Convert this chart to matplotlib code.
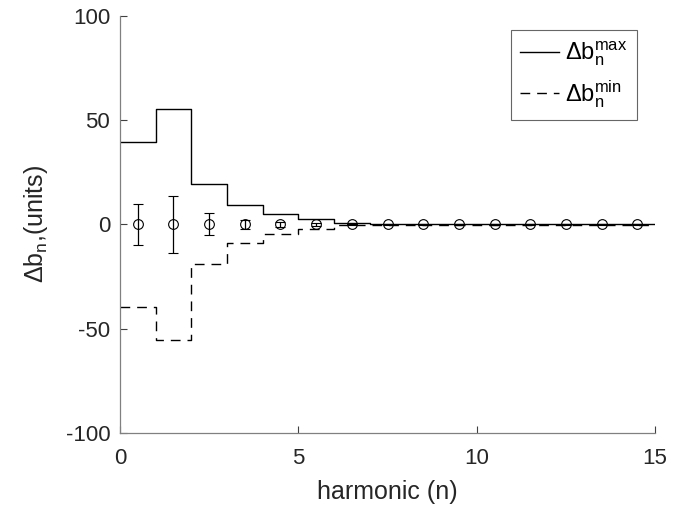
import numpy as np
import matplotlib
matplotlib.use("Agg")
import matplotlib.pyplot as plt

plt.rcParams['font.family'] = ['Liberation Sans', 'DejaVu Sans']
plt.rcParams['mathtext.fontset'] = 'custom'
plt.rcParams['mathtext.rm'] = 'Liberation Sans'
plt.rcParams['mathtext.it'] = 'Liberation Sans'
plt.rcParams['mathtext.default'] = 'regular'
plt.rcParams['axes.unicode_minus'] = False

# harmonic bins (edges) and per-harmonic bounds / spread
edges = np.arange(0, 16)
db_max = [39.5, 55.3, 19.2, 9.1, 5.1, 2.4, 0.5, 0.3, 0.2, 0.15, 0.1, 0.1, 0.1, 0.1, 0.1]
db_min = [-39.5, -55.3, -18.8, -9.1, -4.8, -2.4, -0.5, -0.3, -0.2, -0.15, -0.1, -0.1, -0.1, -0.1, -0.1]
centers = [0.5, 1.5, 2.5, 3.5, 4.5, 5.5, 6.5, 7.5, 8.5, 9.5, 10.5, 11.5, 12.5, 13.5, 14.5]
mean_vals = [0, 0, 0, 0, 0, 0, 0, 0, 0, 0, 0, 0, 0, 0, 0]
sigma = [9.7, 13.8, 5.3, 2.2, 1.3, 0.6, 0.2, 0.1, 0.1, 0.1, 0.1, 0.1, 0.1, 0.1, 0.1]

fig = plt.figure(figsize=(6.79, 5.07), dpi=100)
ax = fig.add_axes([0.1767, 0.146, 0.788, 0.823])

ax.step(edges, list(db_max) + [db_max[-1]], where='post', color='black', lw=1.0,
        label=r'$\Delta b_n^{max}$')
ax.step(edges, list(db_min) + [db_min[-1]], where='post', color='black', lw=1.0,
        linestyle=(0, (7, 5)), label=r'$\Delta b_n^{min}$')
ax.errorbar(centers, mean_vals, yerr=sigma, fmt='o', mfc='none', mec='black',
            ms=7, mew=0.8, ecolor='black', elinewidth=0.9, capsize=3.6, capthick=0.9)

ax.set_xlim(0, 15)
ax.set_ylim(-100, 100)
ax.set_xticks([0, 5, 10, 15])
ax.set_yticks([-100, -50, 0, 50, 100])

for s in ['top', 'right']:
    ax.spines[s].set_visible(False)
for s in ['left', 'bottom']:
    ax.spines[s].set_color('#808080')
    ax.spines[s].set_linewidth(0.9)
ax.tick_params(direction='in', length=5, width=0.8, color='#404040',
               labelsize=16, labelcolor='#262626')
ax.tick_params(axis='x', pad=10.5)
ax.tick_params(axis='y', pad=7)

ax.set_xlabel('harmonic (n)', fontsize=18, color='#262626', labelpad=8)
ax.set_ylabel(r'$\Delta b_n$,(units)', fontsize=18, color='#262626', labelpad=11)

leg = ax.legend(loc='upper right', bbox_to_anchor=(0.966, 0.965), fontsize=17,
                frameon=True, fancybox=False, handlelength=1.65, handletextpad=0.25,
                borderpad=0.4, labelspacing=0.42, borderaxespad=0)
leg.get_frame().set_edgecolor('#404040')
leg.get_frame().set_linewidth(0.8)

fig.savefig('out.png', dpi=100)
